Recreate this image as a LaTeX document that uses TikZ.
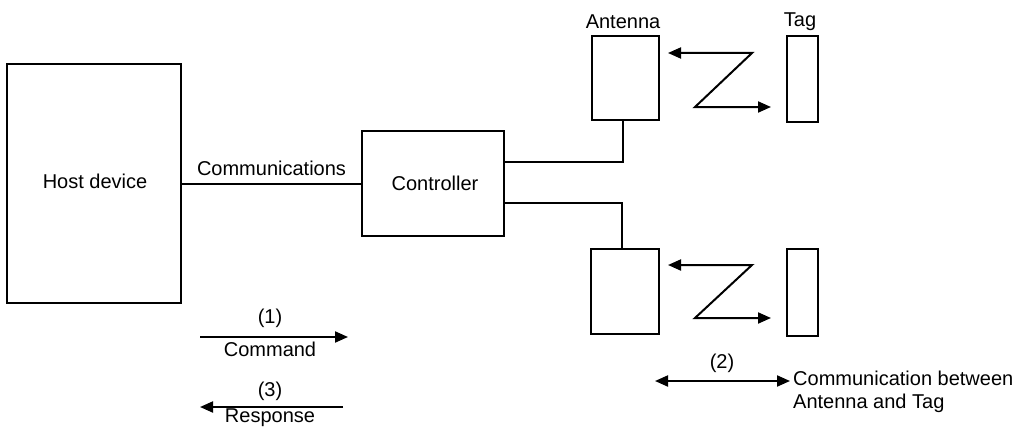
\documentclass[tikz,border=0pt]{standalone}
\usepackage{fontspec}
\setmainfont{Liberation Sans}
\usetikzlibrary{arrows.meta,calc}
\begin{document}
\begin{tikzpicture}[x=1pt,y=-1pt,
  box/.style={draw,line width=2pt,minimum width=#1,inner sep=0pt},
  lbl/.style={inner sep=0pt,font=\fontsize{20}{23}\selectfont},
  wire/.style={line width=2pt},
  arr/.style={line width=2pt,-{Triangle[length=13pt,width=11pt]}},
  darr/.style={line width=2pt,{Triangle[length=13pt,width=11pt]}-{Triangle[length=13pt,width=11pt]}}]
\useasboundingbox (0,0) rectangle (1023,428);
% boxes
\node[box=174pt,minimum height=239pt] (host) at (94,183.5) {};
\node[lbl] (hostlbl) at (95,181) {Host device};
\node[box=142pt,minimum height=105pt] (ctrl) at (433,183.5) {};
\node[lbl] (ctrllbl) at (435,183) {Controller};
\node[box=67pt,minimum height=84pt] (ant1) at (625.5,78) {};
\node[box=31pt,minimum height=86pt] (tag1) at (802.5,79) {};
\node[box=68pt,minimum height=85pt] (ant2) at (625,291.5) {};
\node[box=31pt,minimum height=87pt] (tag2) at (802.5,292.5) {};
\node[lbl] (antlbl) at (623,22) {Antenna};
\node[lbl] (taglbl) at (800,22) {Tag};
% connectors
\draw[wire] (host.east) -- node[lbl,above=7pt] (comm) {Communications} (ctrl.west);
\draw[wire] ([yshift=21.5pt]ctrl.east) -| ([xshift=-3pt]ant1.south);
\draw[wire] ([yshift=-19.5pt]ctrl.east) -| ([xshift=-3pt]ant2.north);
% Z arrows
\coordinate (z1a) at ($(ant1.east)+(8,-25)$);
\coordinate (z1b) at (752,53);
\coordinate (z1c) at (695,107);
\coordinate (z1d) at ($(tag1.west)+(-15,28)$);
\draw[darr,line join=miter] (z1a) -- (z1b) -- (z1c) -- (z1d);
\coordinate (z2a) at ($(ant2.east)+(8,-26.5)$);
\coordinate (z2b) at (752,265);
\coordinate (z2c) at (695,318);
\coordinate (z2d) at ($(tag2.west)+(-15,25.5)$);
\draw[darr,line join=miter] (z2a) -- (z2b) -- (z2c) -- (z2d);
% legend
\coordinate (c1) at (200,337);
\coordinate (c2) at (348,337);
\draw[arr] (c1) -- (c2);
\node[lbl] (n1) at (270,318) {(1)};
\node[lbl] (cmd) at (270,349) {Command};
\coordinate (r1) at (343,407);
\coordinate (r2) at (200,407);
\draw[arr] (r1) -- (r2);
\node[lbl] (n3) at (270,391) {(3)};
\node[lbl] (resp) at (270,418) {Response};
\coordinate (b1) at (655,381);
\coordinate (b2) at (790,381);
\draw[darr] (b1) -- (b2);
\node[lbl] (n2) at (722,363) {(2)};
\node[lbl,anchor=west,align=left] (cab) at (793,392) {Communication between\\Antenna and Tag};
\end{tikzpicture}
\end{document}
